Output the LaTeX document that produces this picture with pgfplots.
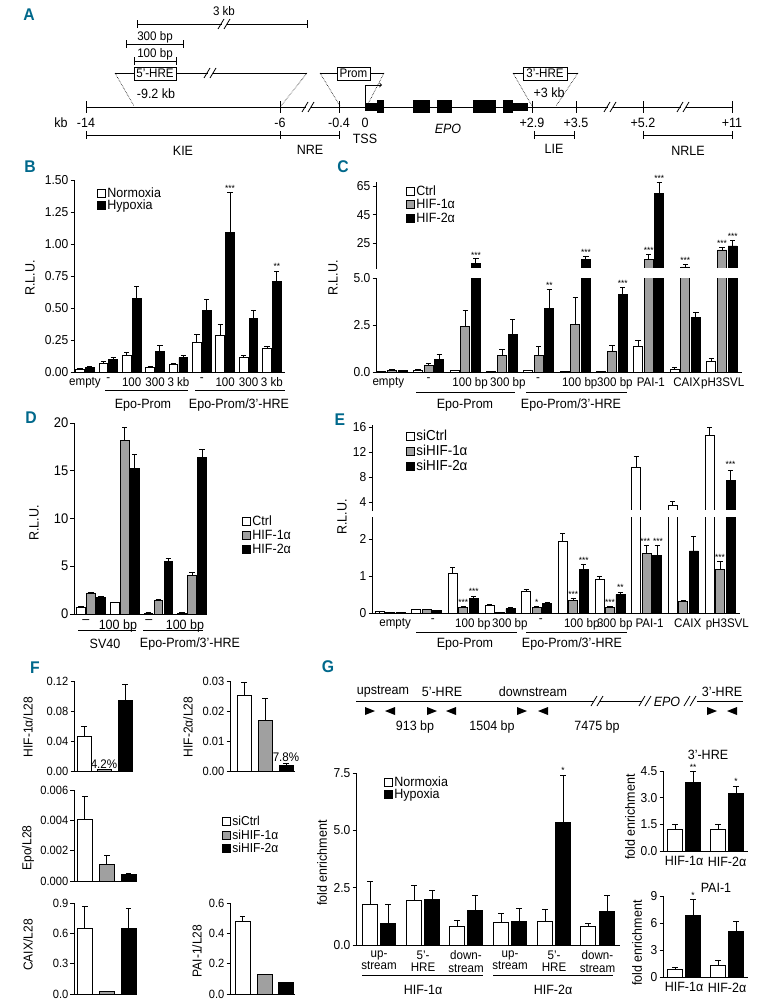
\documentclass[border=0pt]{standalone}
\usepackage{fontspec}
\setmainfont{Liberation Sans}[FakeStretch=0.93]
\usepackage{pgfplots}
\usepackage{pgfplotstable}
\pgfplotsset{compat=1.18}
\definecolor{hgray}{RGB}{160,160,160}
\definecolor{panelc}{RGB}{0,104,139}
\newcommand\fs[1]{\fontsize{#1}{#1}\selectfont}
\tikzset{st/.style={font=\fs{9}, anchor=base, inner sep=0pt}}
\pgfplotsset{
  base/.style={scale only axis, clip mode=individual, enlargelimits=false,
    axis x line*=bottom, axis y line*=left,
    axis line style={line width=0.9bp, black},
    tick align=outside, ytick pos=left, major tick length=3.5bp,
    every tick/.append style={black, line width=0.9bp},
    xtick style={draw=none},
    xticklabel style={font=\fs{12.5}, inner sep=2bp},
    yticklabel style={font=\fs{13}, inner sep=2bp},
    /pgf/number format/assume math mode=true,
    scaled y ticks=false, anchor=south west},
  topaxis/.style={base, axis x line=none, xtick=\empty},
  prec/.style={yticklabel style={/pgf/number format/fixed, /pgf/number format/fixed zerofill, /pgf/number format/precision=#1}},
  eb/.style={error bars/y dir=plus, error bars/y explicit,
    error bars/error bar style={line width=1bp, black},
    error bars/error mark options={rotate=90, line width=1bp, black, mark size=2.6bp}},
  wb/.style={ybar, bar shift=0pt, draw=black, fill=white, line width=0.9bp, eb},
  gb/.style={ybar, bar shift=0pt, draw=black, fill=hgray, line width=0.9bp, eb},
  kb/.style={ybar, bar shift=0pt, draw=black, fill=black, line width=0.9bp, eb},
}
\pgfplotstableread{
g  c    ce    a    ae    b    be
0  0.02 0.01  0.10 0.02  0.08 0.02
1  0.10 0.05  0.36 0.11  0.65 0.30
2  0.06 0.03  2.40 0.86  10.7 3.3
3  0.02 0.01  0.88 0.32  2.02 0.79
4  0.07 0.03  0.86 0.50  3.40 0.99
5  0.03 0.01  2.51 1.43  13.8 2.1
6  0.01 0.01  1.09 0.31  4.14 0.36
7  1.38 0.30  13.8 3.2   59.9 7.4
8  0.16 0.07  8.4  1.6   2.92 0.22
9  0.57 0.15  20.3 1.9   23.1 4.0
}\Ctab
\pgfplotstableread{
g  c    ce    a    ae    b    be
0  0.03 0.005 0.02 0.003 0.02 0.003
1  0.09 0.01  0.09 0.01  0.07 0.01
2  1.07 0.16  0.14 0.03  0.39 0.07
3  0.21 0.03  0.02 0.003 0.12 0.02
4  0.59 0.06  0.15 0.02  0.27 0.02
5  1.95 0.20  0.35 0.04  1.18 0.13
6  0.90 0.10  0.16 0.02  0.50 0.06
7  9.55 1.70  1.60 0.22  1.55 0.27
8  3.50 0.70  0.30 0.04  1.68 0.38
9  14.7 1.30  1.18 0.21  7.47 1.60
}\Etab
\newcommand\brkmark[2]{\fill[white] (#1-2.5,#2-4) rectangle (#1+2.5,#2+4);
  \draw[line width=0.8bp] (#1-6,#2+5)--(#1,#2-5); \draw[line width=0.8bp] (#1,#2+5)--(#1+6,#2-5);}
\newcommand\slmark[2]{\draw[line width=0.8bp] (#1-6,#2+5)--(#1,#2-5); \draw[line width=0.8bp] (#1,#2+5)--(#1+6,#2-5);}
\newcommand\rtri[2]{\fill (#1-5,#2-4) -- (#1+5,#2) -- (#1-5,#2+4) -- cycle;}
\newcommand\ltri[2]{\fill (#1+5,#2-4) -- (#1-5,#2) -- (#1+5,#2+4) -- cycle;}
\newcommand\legent[4]{\draw[line width=0.8bp, fill=#3] (#1,#2-4) rectangle (#1+8,#2+4);
  \node[anchor=base west, inner sep=0pt] at (#1+10,#2+4.6) {#4};}
\newcommand\hseg[3]{\draw (#1,#3)--(#2,#3); \draw (#1,#3-4)--(#1,#3+4); \draw (#2,#3-4)--(#2,#3+4);}
\begin{document}
\begin{tikzpicture}
\useasboundingbox (0,0) rectangle (768bp,-1006bp);

% ---------------- B ----------------
\begin{axis}[base, prec=2, at={(74bp,-372bp)}, width=211bp, height=192bp,
  xmin=-0.47, xmax=8.56, ymin=0, ymax=1.5,
  ytick={0,0.25,0.5,0.75,1,1.25,1.5},
  xtick={0,1,2,3,4,5,6,7,8}, xticklabels={empty,-,100,300,3 kb,-,100,300,3 kb},
  bar width=8.8bp]
\addplot[wb] coordinates {(-0.21,0.02)+-(0,0.004) (0.79,0.07)+-(0,0.012) (1.79,0.128)+-(0,0.022) (2.79,0.037)+-(0,0.004) (3.79,0.06)+-(0,0.006) (4.79,0.227)+-(0,0.063) (5.79,0.284)+-(0,0.086) (6.79,0.11)+-(0,0.02) (7.79,0.183)+-(0,0.015)};
\addplot[kb] coordinates {(0.21,0.034)+-(0,0.008) (1.21,0.097)+-(0,0.02) (2.21,0.574)+-(0,0.091) (3.21,0.159)+-(0,0.047) (4.21,0.112)+-(0,0.018) (5.21,0.477)+-(0,0.092) (6.21,1.088)+-(0,0.312) (7.21,0.415)+-(0,0.062) (8.21,0.704)+-(0,0.084)};
\node[st] at (axis cs:6.21,1.41) {***};
\node[st] at (axis cs:8.21,0.80) {**};
\end{axis}

% ---------------- C ----------------
\begin{axis}[base, prec=1, at={(376bp,-372bp)}, width=366bp, height=94bp,
  xmin=-0.436, xmax=9.545, ymin=0, ymax=5, ytick={0,2.5,5},
  xtick={-0.1,1,2.13,3.16,3.98,5.12,6.08,7.06,8.04,9.02},
  xticklabels={empty,-,100 bp,300 bp,-,100 bp,300 bp,PAI-1,CAIX,pH3SVL},
  bar width=9bp]
\addplot[wb] table[x expr=\thisrow{g}-0.29,y=c,y error=ce] {\Ctab};
\addplot[gb] table[x=g,y=a,y error=ae] {\Ctab};
\addplot[kb] table[x expr=\thisrow{g}+0.29,y=b,y error=be] {\Ctab};
\node[st] at (axis cs:4.29,4.45) {**};
\node[st] at (axis cs:6.29,4.56) {***};
\end{axis}
\begin{axis}[topaxis, at={(376bp,-269bp)}, width=366bp, height=87.3bp,
  xmin=-0.436, xmax=9.545, ymin=7, ymax=68, ytick={25,45,65}, bar width=9bp,
  restrict y to domain=7:1000]
\addplot[wb] table[x expr=\thisrow{g}-0.29,y=c,y error=ce] {\Ctab};
\addplot[gb] table[x=g,y=a,y error=ae] {\Ctab};
\addplot[kb] table[x expr=\thisrow{g}+0.29,y=b,y error=be] {\Ctab};
\node[st] at (axis cs:2.29,14.6) {***};
\node[st] at (axis cs:5.29,16.5) {***};
\node[st] at (axis cs:7,17.6) {***};
\node[st] at (axis cs:7.29,68.0) {***};
\node[st] at (axis cs:8,10.6) {***};
\node[st] at (axis cs:9,22.8) {***};
\node[st] at (axis cs:9.29,27.7) {***};
\end{axis}

% ---------------- D ----------------
\begin{axis}[base, at={(74bp,-614bp)}, width=133bp, height=191bp,
  xmin=-0.504, xmax=3.445, ymin=0, ymax=20, ytick={0,5,10,15,20},
  xtick={-0.15,0.8,1.72,2.79}, xticklabels={--,100 bp,--,100 bp},
  xticklabel style={font=\fs{13.5}}, yticklabel style={font=\fs{14}},
  bar width=8.6bp]
\addplot[wb] coordinates {(-0.297,0.67)+-(0,0.08) (0.703,1.16)+-(0,0.08) (1.703,0.1)+-(0,0.02) (2.703,0.1)+-(0,0.02)};
\addplot[gb] coordinates {(0,2.2)+-(0,0.1) (1,18.2)+-(0,1.3) (2,1.4)+-(0,0.08) (3,4.05)+-(0,0.28)};
\addplot[kb] coordinates {(0.297,1.7)+-(0,0.13) (1.297,15.2)+-(0,1.5) (2.297,5.5)+-(0,0.35) (3.297,16.4)+-(0,0.8)};
\end{axis}

% ---------------- E ----------------
\begin{axis}[base, at={(372bp,-613bp)}, width=368bp, height=96bp,
  xmin=-0.49, xmax=9.545, ymin=0, ymax=2.6, ytick={0,1,2},
  xtick={0.14,1.17,2.26,3.27,4.11,5.23,6.13,7.08,8.12,9.2},
  xticklabels={empty,-,100 bp,300 bp,-,100 bp,300 bp,PAI-1,CAIX,pH3SVL},
  bar width=9bp]
\addplot[wb] table[x expr=\thisrow{g}-0.286,y=c,y error=ce] {\Etab};
\addplot[gb] table[x=g,y=a,y error=ae] {\Etab};
\addplot[kb] table[x expr=\thisrow{g}+0.286,y=b,y error=be] {\Etab};
\node[st] at (axis cs:2,0.2) {***};
\node[st] at (axis cs:2.286,0.49) {***};
\node[st] at (axis cs:4,0.2) {*};
\node[st] at (axis cs:5,0.42) {***};
\node[st] at (axis cs:5.286,1.35) {***};
\node[st] at (axis cs:6,0.21) {***};
\node[st] at (axis cs:6.286,0.6) {**};
\node[st] at (axis cs:6.96,1.86) {***};
\node[st] at (axis cs:7.31,1.86) {***};
\node[st] at (axis cs:9,1.43) {***};
\end{axis}
\begin{axis}[topaxis, at={(372bp,-511bp)}, width=368bp, height=85.6bp,
  xmin=-0.49, xmax=9.545, ymin=2.6, ymax=16.3, ytick={4,8,12,16}, bar width=9bp,
  restrict y to domain=2.6:1000]
\addplot[wb] table[x expr=\thisrow{g}-0.286,y=c,y error=ce] {\Etab};
\addplot[gb] table[x=g,y=a,y error=ae] {\Etab};
\addplot[kb] table[x expr=\thisrow{g}+0.286,y=b,y error=be] {\Etab};
\node[st] at (axis cs:9.286,9.6) {***};
\end{axis}

% ---------------- F ----------------
\begin{axis}[base, prec=2, at={(74bp,-771bp)}, width=59bp, height=90bp,
  xmin=0, xmax=59, ymin=0, ymax=0.12, ytick={0,0.04,0.08,0.12}, xtick=\empty,
  bar width=14, yticklabel style={font=\fs{12}}]
\addplot[wb] coordinates {(10,0.0458)+-(0,0.0142)};
\addplot[gb] coordinates {(30,0.002)+-(0,0)};
\addplot[kb] coordinates {(51,0.0947)+-(0,0.0203)};
\node[font=\fs{12.5}, anchor=south, inner sep=1bp] at (axis cs:30,0.002) {4.2\%};
\end{axis}
\begin{axis}[base, prec=2, at={(230bp,-771bp)}, width=65bp, height=90bp,
  xmin=0, xmax=65, ymin=0, ymax=0.03, ytick={0,0.01,0.02,0.03}, xtick=\empty,
  bar width=14, yticklabel style={font=\fs{12}}]
\addplot[wb] coordinates {(14,0.0253)+-(0,0.0042)};
\addplot[gb] coordinates {(35,0.017)+-(0,0.0072)};
\addplot[kb] coordinates {(56,0.002)+-(0,0.0005)};
\node[font=\fs{12.5}, anchor=south, inner sep=1bp] at (axis cs:56,0.0026) {7.8\%};
\end{axis}
\begin{axis}[base, prec=3, at={(74bp,-881bp)}, width=63bp, height=91bp,
  xmin=0, xmax=63, ymin=0, ymax=0.006, ytick={0,0.002,0.004,0.006}, xtick=\empty,
  bar width=15, yticklabel style={font=\fs{12}}]
\addplot[wb] coordinates {(11,0.00407)+-(0,0.0015)};
\addplot[gb] coordinates {(33,0.00108)+-(0,0.0006)};
\addplot[kb] coordinates {(54.5,0.00046)+-(0,0.00003)};
\end{axis}
\begin{axis}[base, prec=1, at={(74bp,-994bp)}, width=63bp, height=91bp,
  xmin=0, xmax=63, ymin=0, ymax=0.9, ytick={0,0.3,0.6,0.9}, xtick=\empty,
  bar width=15, yticklabel style={font=\fs{12}}]
\addplot[wb] coordinates {(11,0.653)+-(0,0.214)};
\addplot[gb] coordinates {(33,0.026)+-(0,0.003)};
\addplot[kb] coordinates {(54.5,0.653)+-(0,0.19)};
\end{axis}
\begin{axis}[base, prec=1, at={(230bp,-994bp)}, width=65bp, height=91bp,
  xmin=0, xmax=65, ymin=0, ymax=0.6, ytick={0,0.2,0.4,0.6}, xtick=\empty,
  bar width=15, yticklabel style={font=\fs{12}}]
\addplot[wb] coordinates {(12.5,0.481)+-(0,0.031)};
\addplot[gb] coordinates {(34.5,0.127)+-(0,0.003)};
\addplot[kb] coordinates {(56,0.077)+-(0,0)};
\end{axis}

% ---------------- G ----------------
\begin{axis}[base, prec=1, at={(356bp,-945bp)}, width=264bp, height=172bp,
  xmin=0, xmax=264, ymin=0, ymax=7.5, ytick={0,2.5,5,7.5},
  xtick={23,67,110,154,198,241.5},
  xticklabels={{up-\\stream},{5'-\\HRE},{down-\\stream},{up-\\stream},{5'-\\HRE},{down-\\stream}},
  xticklabel style={align=center, font=\fs{12.5}},
  bar width=15]
\addplot[wb] coordinates {(14,1.75)+-(0,1.02) (58,1.94)+-(0,0.66) (101,0.8)+-(0,0.26) (145,0.99)+-(0,0.39) (189,1.02)+-(0,0.51) (232,0.8)+-(0,0.12)};
\addplot[kb] coordinates {(32,0.95)+-(0,0.8) (76,2.0)+-(0,0.37) (119,1.5)+-(0,0.64) (163,1.03)+-(0,0.57) (207,5.36)+-(0,2.03) (251,1.46)+-(0,0.68)};
\node[st] at (axis cs:207,7.5) {*};
\end{axis}
\begin{axis}[base, prec=1, at={(663bp,-851bp)}, width=85bp, height=80bp,
  xmin=0, xmax=85, ymin=0, ymax=4.5, ytick={0,1.5,3,4.5},
  xtick={21,64}, xticklabels={HIF-1α,HIF-2α}, xticklabel style={font=\fs{13.5}},
  bar width=15]
\addplot[wb] coordinates {(12,1.2)+-(0,0.28) (55,1.22)+-(0,0.26)};
\addplot[kb] coordinates {(30,3.83)+-(0,0.65) (73,3.22)+-(0,0.42)};
\node[st] at (axis cs:30,4.55) {**};
\node[st] at (axis cs:73,3.72) {*};
\end{axis}
\begin{axis}[base, at={(663bp,-977bp)}, width=85bp, height=81bp,
  xmin=0, xmax=85, ymin=0, ymax=9, ytick={0,3,6,9},
  xtick={21,64}, xticklabels={HIF-1α,HIF-2α}, xticklabel style={font=\fs{13.5}},
  bar width=15]
\addplot[wb] coordinates {(12,0.86)+-(0,0.18) (55,1.26)+-(0,0.52)};
\addplot[kb] coordinates {(30,6.88)+-(0,1.75) (73,5.02)+-(0,1.12)};
\node[st] at (axis cs:30,8.75) {*};
\end{axis}

% ---------------- decorations ----------------
\begin{scope}[x=1bp, y=-1bp, line width=0.9bp]
\fill[white] (377,268.3) rectangle (746,277.4);
\fill[white] (373,510.3) rectangle (746,516.4);
\foreach \l/\px/\py in {A/29/15, B/30/167, C/343/167, D/31/418, E/340/420, F/35/668, G/328/667}
  \node[font=\fs{17}\bfseries, text=panelc] at (\px,\py) {\l};

% ===== A =====
\begin{scope}[font=\fs{12.5}]
\node at (224,11) {3 kb};
\hseg{137}{307}{24}
\brkmark{224}{24}
\node at (155,37) {300 bp};
\hseg{126}{183}{44}
\node at (155,54) {100 bp};
\hseg{134}{176}{61}
\draw (115,73)--(307,73);
\brkmark{210}{73}
\draw[fill=white] (134,67) rectangle (176,80);
\node at (155,73.5) {5'-HRE};
\draw[densely dotted, line width=0.6bp] (115,73)--(134,106);
\draw[densely dotted, line width=0.6bp] (307,73)--(281,106);
\node[font=\fs{13.5}] at (156,94) {-9.2 kb};
\draw (320,73)--(384,73);
\draw[fill=white] (337,67) rectangle (370,80);
\node at (353.5,73.5) {Prom};
\draw[densely dotted, line width=0.6bp] (320,73)--(340,106);
\draw[densely dotted, line width=0.6bp] (384,73)--(368,104);
\draw (513,73)--(578,73);
\draw[fill=white] (523,67) rectangle (567,80);
\node at (545,73.5) {3'-HRE};
\draw[densely dotted, line width=0.6bp] (513,73)--(532,106);
\draw[densely dotted, line width=0.6bp] (578,73)--(556,106);
\node[font=\fs{13.5}] at (549,93) {+3 kb};
\draw (86,107)--(732,107);
\brkmark{308}{107} \brkmark{610}{107} \brkmark{683}{107}
\foreach \t in {86,280,339,532,576,643,732} \draw (\t,101)--(\t,113);
\draw[->] (365,106)--(365,85)--(382,85);
\fill (365,103) rectangle (379,111);
\fill (377,100) rectangle (384,113);
\fill (413,100) rectangle (430,113);
\fill (437,100) rectangle (452,113);
\fill (473,100) rectangle (496,113);
\fill (503,100) rectangle (513,113);
\fill (513,103) rectangle (528,111);
\end{scope}
\begin{scope}[font=\fs{13.5}]
\foreach \t/\lab in {61/kb, 86/-14, 280/-6, 339/-0.4, 365/0, 532/+2.9, 576/+3.5, 643/+5.2, 732/+11}
  \node at (\t,123) {\lab};
\node at (448,129) {\itshape EPO};
\node at (365,139) {TSS};
\hseg{86}{280}{135}
\hseg{280}{339}{135}
\hseg{534}{574}{135}
\hseg{643}{732}{135}
\node at (183,151) {KIE};
\node at (310,150) {NRE};
\node at (554,149) {LIE};
\node at (688,151) {NRLE};
\end{scope}

% ===== B / C / D / E decorations =====
\begin{scope}[font=\fs{13.5}]
\node[rotate=90] at (30,278) {R.L.U.};
\draw (105,390)--(188,390);
\draw (195,390)--(285,390);
\node at (143,405) {Epo-Prom};
\node at (239,405) {Epo-Prom/3'-HRE};
\legent{97}{193}{white}{Normoxia}
\legent{97}{205}{black}{Hypoxia}

\node[rotate=90] at (333,278) {R.L.U.};
\draw (416,392)--(515,392);
\draw (526,392)--(627,392);
\node at (465,405) {Epo-Prom};
\node at (571,405) {Epo-Prom/3'-HRE};
\legent{406}{191}{white}{Ctrl}
\legent{406}{204}{hgray}{HIF-1α}
\legent{406}{218}{black}{HIF-2α}

\node[rotate=90] at (34,523) {R.L.U.};
\draw (78,630)--(136,630);
\draw (143,630)--(203,630);
\node at (105,644) {SV40};
\node at (190,644) {Epo-Prom/3'-HRE};
\legent{242}{521}{white}{Ctrl}
\legent{242}{535}{hgray}{HIF-1α}
\legent{242}{549}{black}{HIF-2α}

\node[rotate=90] at (342,517) {R.L.U.};
\draw (416,632)--(517,632);
\draw (526,632)--(627,632);
\node at (465,644) {Epo-Prom};
\node at (572,644) {Epo-Prom/3'-HRE};
\end{scope}
\begin{scope}[font=\fs{14.5}]
\legent{406}{436}{white}{siCtrl}
\legent{406}{451}{hgray}{siHIF-1α}
\legent{406}{466}{black}{siHIF-2α}
\end{scope}

% ===== F =====
\begin{scope}[font=\fs{13}]
\node[rotate=90] at (28,727) {HIF-1α/L28};
\node[rotate=90] at (188,727) {HIF-2α/L28};
\node[rotate=90] at (28,848) {Epo/L28};
\node[rotate=90] at (28,945) {CAIX/L28};
\node[rotate=90] at (197,951) {PAI-1/L28};
\legent{222}{821}{white}{siCtrl}
\legent{222}{835}{hgray}{siHIF-1α}
\legent{222}{848}{black}{siHIF-2α}
\end{scope}

% ===== G =====
\begin{scope}[font=\fs{13.5}]
\draw (356,701)--(594,701);
\draw (600,701)--(642,701);
\draw (697,701)--(743,701);
\slmark{597}{701} \slmark{645}{701} \slmark{690}{701}
\node at (667,702) {\itshape EPO};
\node at (383,692) {upstream};
\node at (442,692) {5'-HRE};
\node at (533,692) {downstream};
\node at (722,692) {3'-HRE};
\rtri{370}{711} \ltri{390}{711}
\rtri{432}{711} \ltri{451}{711}
\rtri{522}{711} \ltri{543}{711}
\rtri{712}{711} \ltri{732}{711}
\node at (415,727) {913 bp};
\node at (492,727) {1504 bp};
\node at (597,727) {7475 bp};
\node[rotate=90] at (322,863) {fold enrichment};
\draw (362,975)--(483,975);
\draw (493,975)--(613,975);
\node at (423,990) {HIF-1α};
\node at (553,990) {HIF-2α};
\legent{384}{782}{white}{Normoxia}
\legent{384}{794}{black}{Hypoxia}
\node at (708,755) {3'-HRE};
\node at (716,888) {PAI-1};
\node[rotate=90] at (630,817) {fold enrichment};
\node[rotate=90] at (637,943) {fold enrichment};
\end{scope}
\end{scope}
\end{tikzpicture}
\end{document}
